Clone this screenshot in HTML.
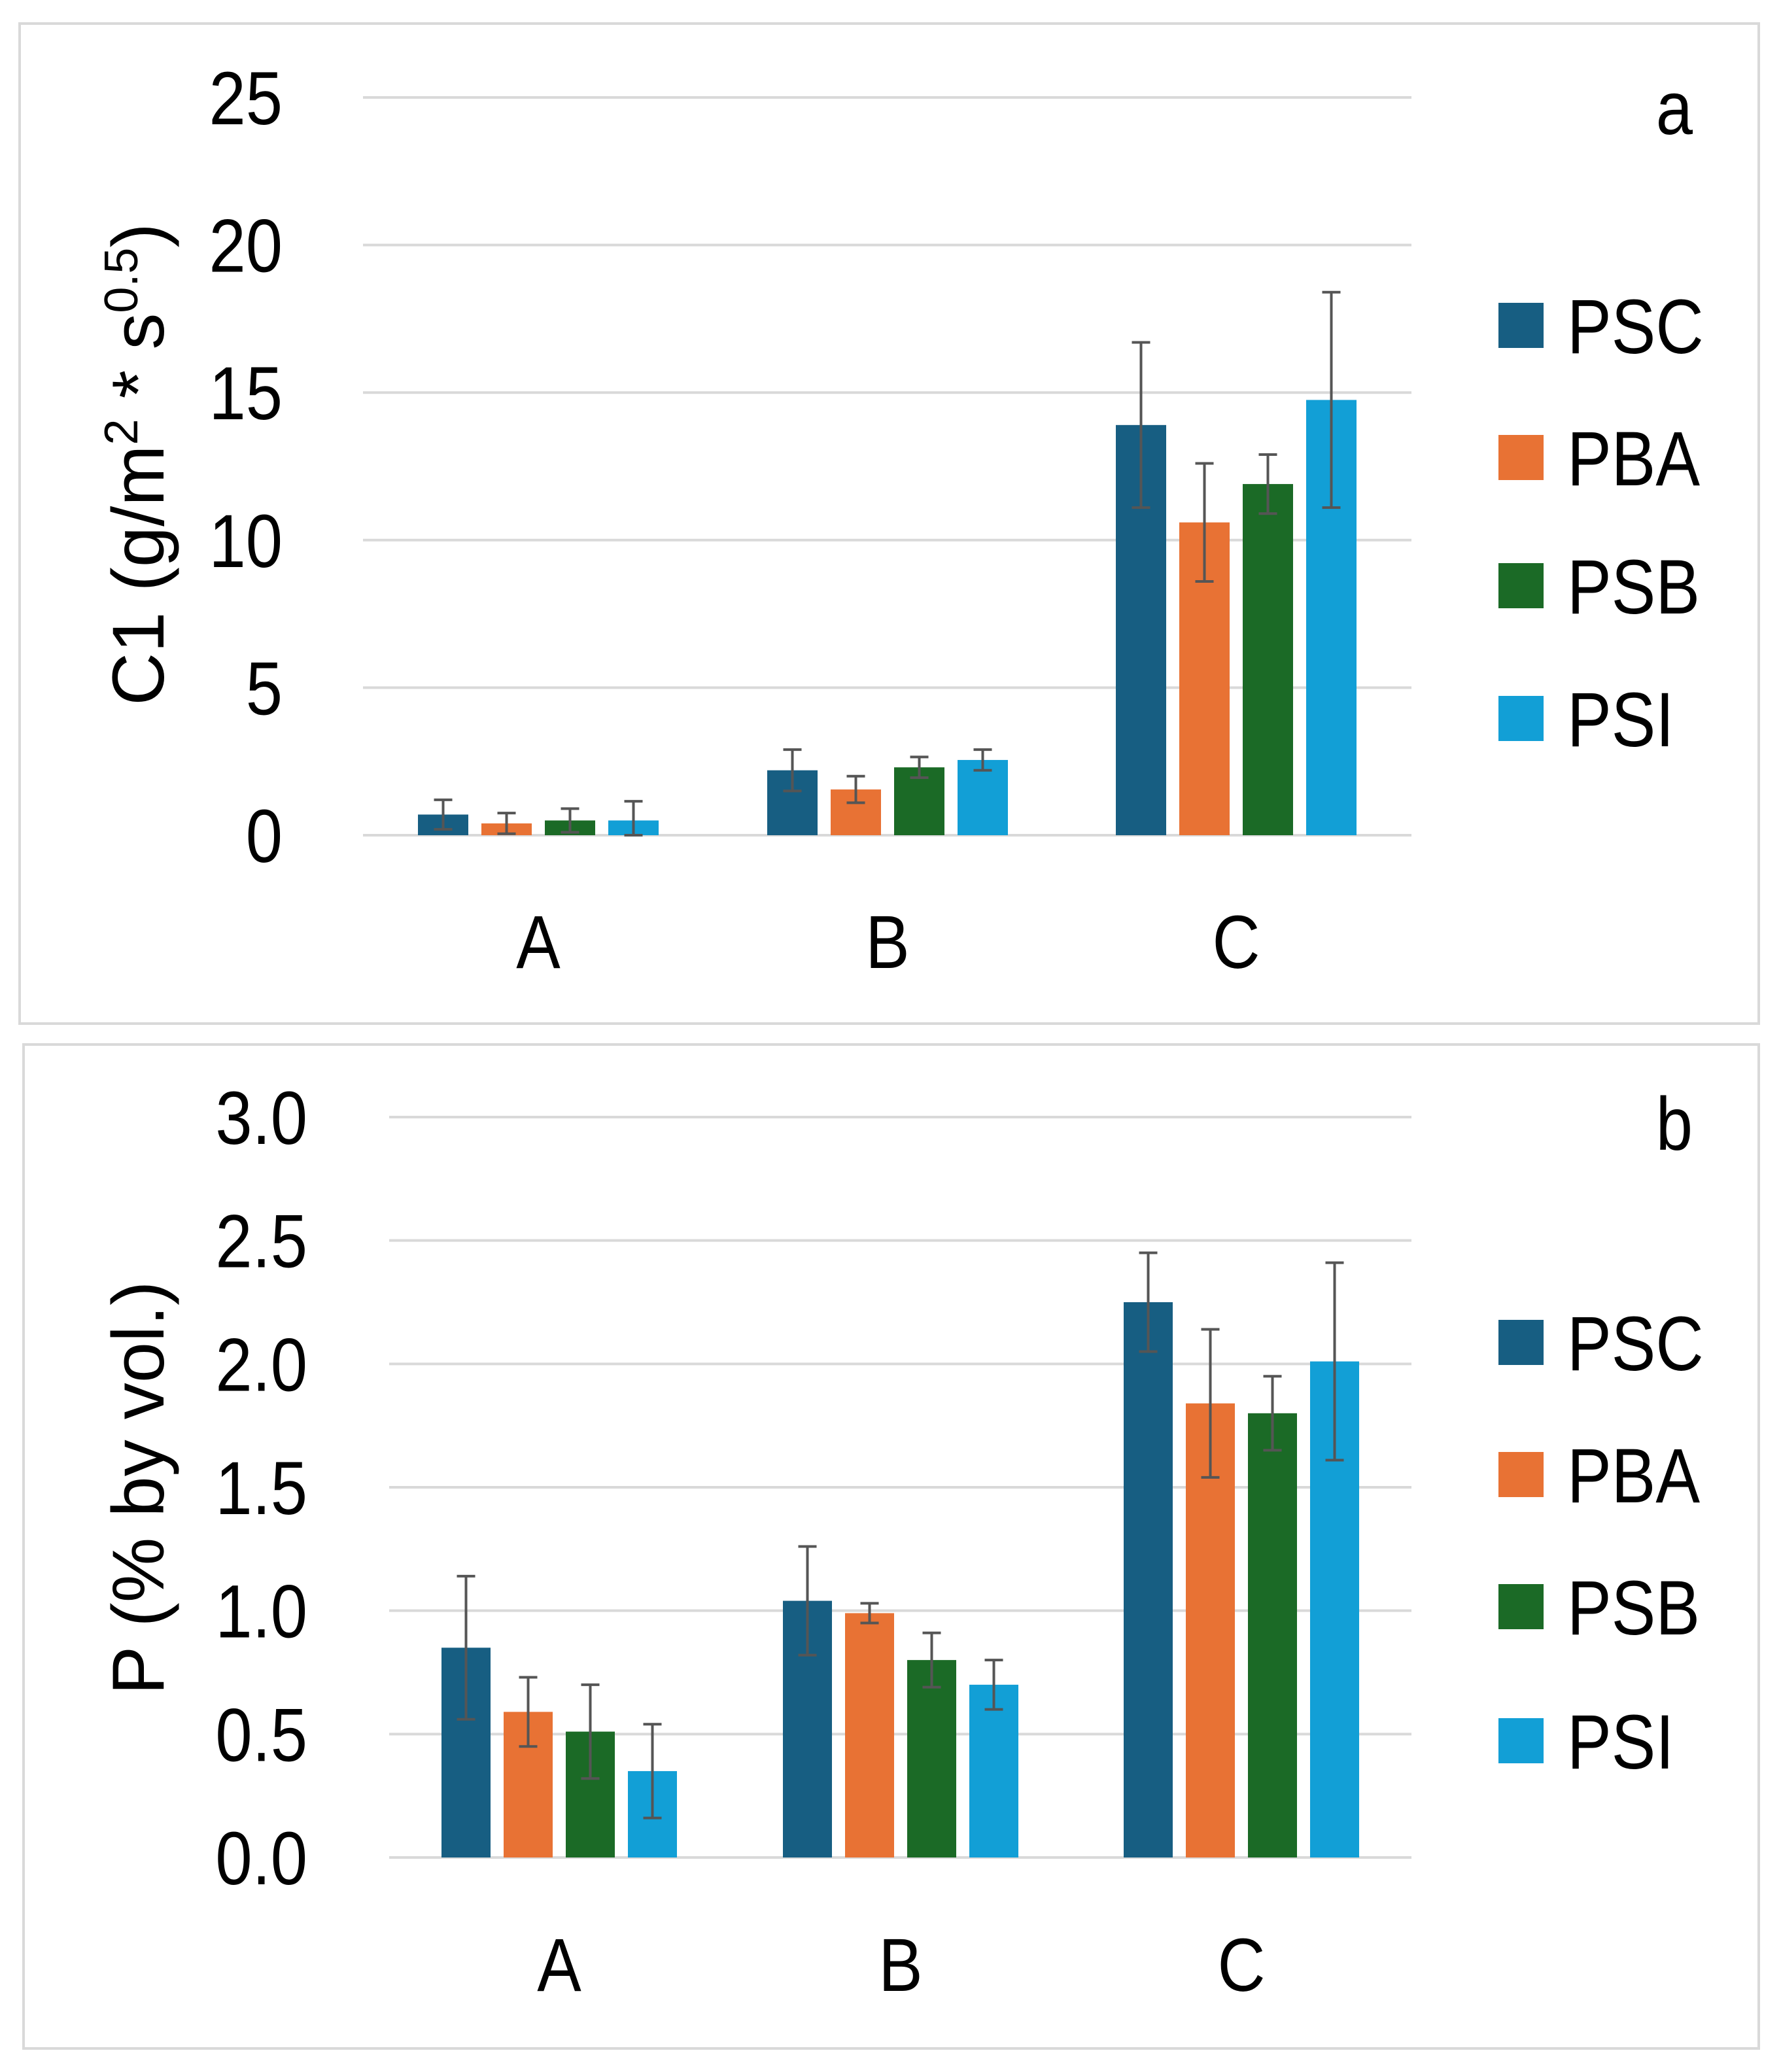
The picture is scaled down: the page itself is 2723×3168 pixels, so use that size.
<!DOCTYPE html>
<html><head><meta charset="utf-8"><style>
html,body{margin:0;padding:0;background:#fff}
svg{display:block}
text{font-family:"Liberation Sans",sans-serif;fill:#000}
</style></head><body>
<svg id="chart" width="2723" height="3168" viewBox="0 0 2723 3168" xmlns="http://www.w3.org/2000/svg"></svg>
<script>
const categories = ["A","B","C"];
const seriesNames = ["PSC","PBA","PSB","PSI"];
const colors = ["#175e82","#e87234","#1b6a26","#129fd6"];
const aValues = [[0.7,2.2,13.9],[0.4,1.55,10.6],[0.5,2.3,11.9],[0.5,2.55,14.75]];
const aErrors = [[0.5,0.7,2.8],[0.35,0.45,2.0],[0.4,0.35,1.0],[0.65,0.35,3.65]];
const aTicks = ["0","5","10","15","20","25"];
const aTickVals = [0,5,10,15,20,25];
const bValues = [[0.85,1.04,2.25],[0.59,0.99,1.84],[0.51,0.80,1.80],[0.35,0.70,2.01]];
const bErrors = [[0.29,0.22,0.2],[0.14,0.04,0.3],[0.19,0.11,0.15],[0.19,0.1,0.4]];
const bTicks = ["0.0","0.5","1.0","1.5","2.0","2.5","3.0"];
const bTickVals = [0,0.5,1,1.5,2,2.5,3];

const NS="http://www.w3.org/2000/svg";
const svg=document.getElementById('chart');
function mk(tag,attrs,parent){const e=document.createElementNS(NS,tag);for(const k in attrs)e.setAttribute(k,attrs[k]);(parent||svg).appendChild(e);return e;}
function txt(parent,x,y,size,anchor,content,sx){
  const t=mk('text',{x:0,y:0,'font-size':size,'text-anchor':anchor,transform:`translate(${x},${y}) scale(${sx||0.88},1)`},parent);
  t.textContent=content;return t;
}

function panel(cfg){
  const g=mk('g',{});
  
  
  const frame=mk('rect',{x:cfg.box[0],y:cfg.box[1],width:cfg.box[2]-cfg.box[0],height:cfg.box[3]-cfg.box[1],fill:'#fff',stroke:'#d9d9d9','stroke-width':4},g);
  
  
  const y=v=>cfg.y0-(v/cfg.max)*(cfg.y0-cfg.yTop);
  cfg.tickVals.forEach((tv,i)=>{
    const l=mk('line',{x1:cfg.x0,x2:cfg.x1,y1:y(tv),y2:y(tv),stroke:'#d9d9d9','stroke-width':4},g);
    
    
    const t=txt(g,cfg.tickX,y(tv)+41,115,'end',cfg.ticks[i]);
    
    
  });
  categories.forEach((c,ci)=>{
    const cx=cfg.centers[ci];
    const t=txt(g,cx,cfg.catY,115,'middle',c);
    
    
    seriesNames.forEach((s,si)=>{
      const v=cfg.values[si][ci], e=cfg.errors[si][ci];
      const bx=cx+(si-1.5)*cfg.step-cfg.bw/2;
      const r=mk('rect',{x:bx,y:y(v),width:cfg.bw,height:cfg.y0-y(v),fill:colors[si]},g);
      
      
      const mx=bx+cfg.bw/2;
      const eg=mk('g',{stroke:'#555','stroke-width':4},g);
      
      
      mk('line',{x1:mx,x2:mx,y1:y(v+e),y2:y(Math.max(0,v-e))},eg);
      mk('line',{x1:mx-14,x2:mx+14,y1:y(v+e),y2:y(v+e)},eg);
      mk('line',{x1:mx-14,x2:mx+14,y1:y(Math.max(0,v-e)),y2:y(Math.max(0,v-e))},eg);
    });
  });
  seriesNames.forEach((s,si)=>{
    const ly=cfg.legendY[si];
    const lg=mk('g',{},g);
    
    
    mk('rect',{x:2291,y:ly-35,width:69,height:69,fill:colors[si]},lg);
    txt(lg,2396,ly+42,118,'start',s,0.86);
  });
  const pl=txt(g,2588,cfg.letterY,115,'end',cfg.letter);
  
  
  const at=mk('text',{x:0,y:0,'font-size':112,'text-anchor':'middle',transform:`translate(250,${cfg.titleY}) rotate(-90)`},g);
  at.innerHTML=cfg.title;
  
  
}

panel({name:'panel-a',box:[30,36,2689,1565],x0:555,x1:2158,y0:1277,yTop:149,max:25,tickVals:aTickVals,ticks:aTicks,tickX:432,
  centers:[823,1357,1890],step:97,bw:77,values:aValues,errors:aErrors,catY:1480,legendY:[498,700,896,1099],letter:'a',letterY:205,
  title:'C1 (g/m<tspan baseline-shift="super" font-size="72">2</tspan> * s<tspan baseline-shift="super" font-size="72">0.5</tspan>)',titleY:710});
panel({name:'panel-b',box:[36,1597,2689,3132],x0:595,x1:2158,y0:2840,yTop:1708,max:3,tickVals:bTickVals,ticks:bTicks,tickX:470,
  centers:[855,1377,1898],step:95,bw:75,values:bValues,errors:bErrors,catY:3044,legendY:[2053,2255,2457,2662],letter:'b',letterY:1758,
  title:'P (% by vol.)',titleY:2275});
</script>
</body></html>
